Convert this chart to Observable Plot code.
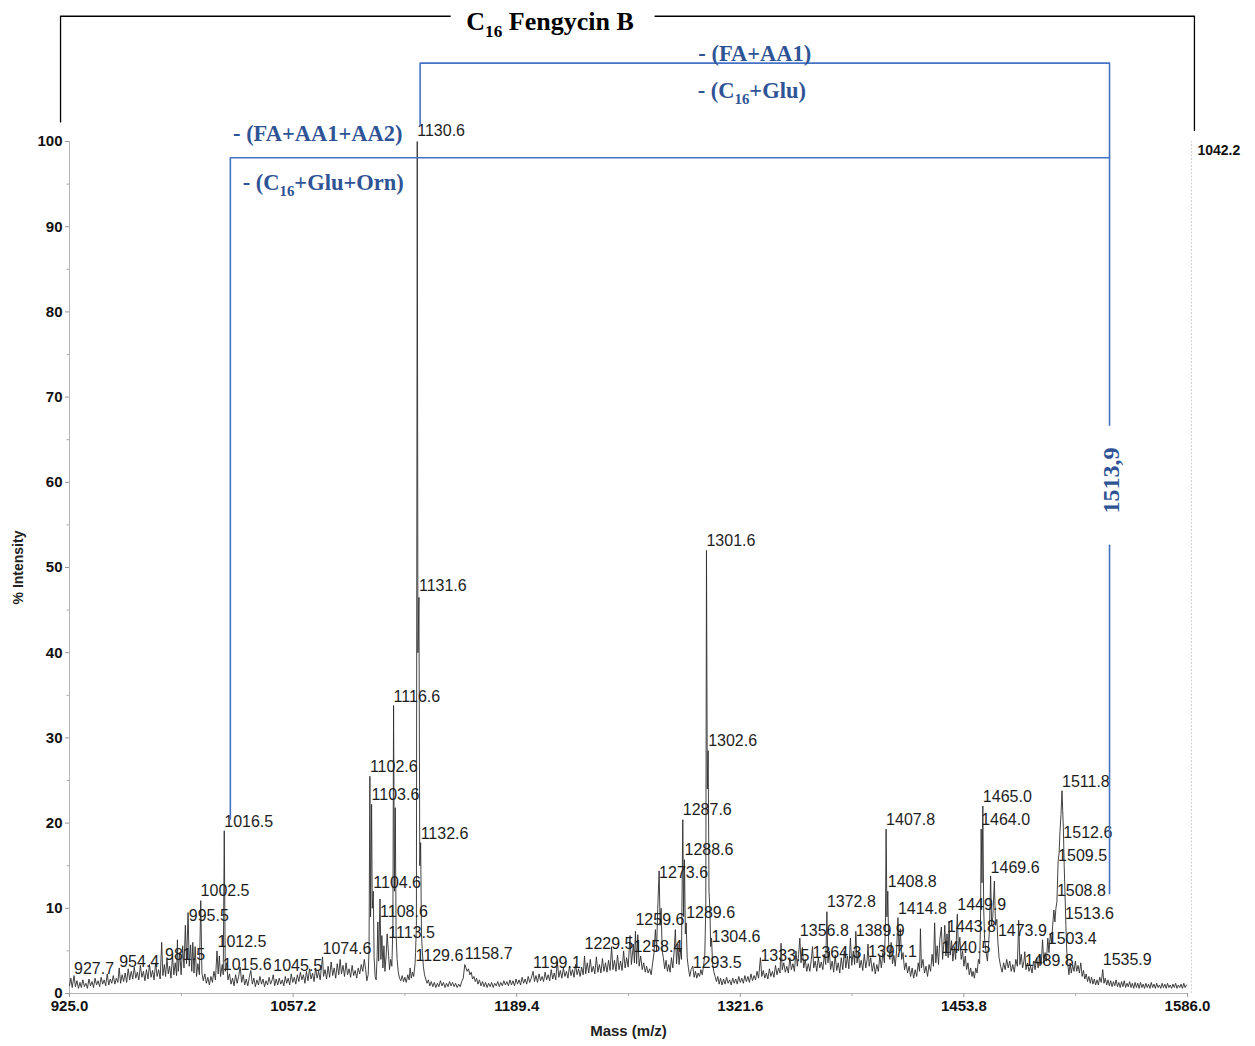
<!DOCTYPE html>
<html>
<head>
<meta charset="utf-8">
<script src="https://cdn.jsdelivr.net/npm/d3@7"></script>
<script src="https://cdn.jsdelivr.net/npm/@observablehq/plot@0.6"></script>
<style>
  html, body { margin: 0; padding: 0; background: #fff; }
  #chart { width: 1255px; height: 1046px; }
</style>
</head>
<body>
<div id="chart"></div>
<script>
// ---------- DATA ----------
const xTicks = [925.0, 1057.2, 1189.4, 1321.6, 1453.8, 1586.0];
const xMinorTicks = [991.1, 1123.3, 1255.5, 1387.7, 1519.9];
const yTicks = [0, 10, 20, 30, 40, 50, 60, 70, 80, 90, 100];
const yMinorTicks = [5, 15, 25, 35, 45, 55, 65, 75, 85, 95];
const maxCounts = "1042.2";

// spectrum profile [m/z, % intensity]
const spectrum = [
[925.0,0.9],[925.8,1.8],[926.6,0.7],[927.7,2.1],[928.5,0.8],[929.4,1.5],[930.3,0.6],[931.2,1.3],[932.0,0.7],[932.9,1.6],[933.8,0.8],[934.7,1.2],[935.6,0.6],[936.5,1.7],[937.4,0.9],[938.3,1.4],[939.2,0.7],[940.1,1.8],[941.0,1.0],[941.9,1.5],[942.8,0.8],[943.7,1.9],[944.6,1.1],[945.5,1.6],[946.4,0.9],[947.3,2.3],[948.2,1.0],[949.1,1.7],[950.0,1.2],[950.9,2.1],[951.8,1.1],[952.7,1.8],[953.6,1.3],[954.4,3.0],[955.2,1.2],[956.1,2.2],[957.0,1.4],[957.9,2.4],[958.8,1.3],[959.7,2.9],[960.6,1.6],[961.5,2.6],[962.4,1.7],[963.3,3.1],[964.2,1.8],[965.1,2.5],[966.0,1.6],[966.9,3.3],[967.8,1.9],[968.7,2.6],[969.6,1.5],[970.5,2.8],[971.4,1.7],[972.3,3.4],[973.2,1.9],[974.1,2.7],[975.0,1.6],[975.9,3.6],[976.8,2.0],[977.7,2.8],[978.6,1.7],[979.5,6.0],[980.2,2.1],[981.1,3.4],[981.8,2.0],[982.6,4.1],[983.4,2.3],[984.2,3.2],[985.0,1.8],[985.9,4.5],[986.7,2.2],[987.5,3.6],[988.3,2.1],[988.8,6.3],[989.3,2.6],[990.2,4.8],[991.0,2.2],[991.9,5.6],[992.7,3.0],[993.5,8.0],[994.2,3.5],[995.1,9.5],[995.8,3.2],[996.6,5.7],[997.3,2.6],[997.9,6.0],[998.6,2.4],[999.3,5.5],[1000.1,2.0],[1000.9,3.5],[1001.8,2.2],[1002.6,10.9],[1003.3,2.4],[1004.1,1.5],[1005.0,2.3],[1005.9,1.2],[1006.8,1.9],[1007.7,1.0],[1008.6,2.0],[1009.5,1.3],[1010.4,2.6],[1011.3,1.6],[1012.2,5.0],[1012.9,2.3],[1013.6,4.4],[1014.3,2.0],[1015.3,3.4],[1015.9,2.2],[1016.5,19.1],[1017.1,2.6],[1017.9,3.6],[1018.7,1.6],[1019.6,2.3],[1020.5,1.1],[1021.4,1.8],[1022.3,0.9],[1023.2,2.2],[1024.1,1.2],[1025.0,2.0],[1025.9,3.1],[1026.8,1.3],[1027.7,2.2],[1028.6,1.0],[1029.5,1.7],[1030.4,0.9],[1031.3,1.9],[1032.2,2.7],[1033.1,1.1],[1034.0,1.8],[1034.9,0.8],[1035.8,1.6],[1036.7,1.0],[1037.6,2.0],[1038.5,1.1],[1039.4,1.7],[1040.3,0.8],[1041.2,1.5],[1042.1,1.0],[1043.0,1.9],[1043.9,1.1],[1044.8,1.6],[1045.5,2.2],[1046.3,0.9],[1047.2,1.7],[1048.1,1.0],[1049.0,1.8],[1049.9,1.1],[1050.8,1.6],[1051.7,0.9],[1052.6,2.0],[1053.4,1.2],[1054.3,1.8],[1055.2,1.0],[1056.1,2.3],[1057.0,1.3],[1057.9,1.9],[1058.8,1.1],[1059.7,2.2],[1060.6,1.4],[1061.5,2.5],[1062.4,1.6],[1063.3,2.2],[1064.2,1.2],[1065.1,2.6],[1066.0,1.5],[1066.9,2.9],[1067.8,1.7],[1068.7,2.4],[1069.6,1.4],[1070.5,3.0],[1071.4,1.8],[1072.3,2.6],[1073.2,1.6],[1074.1,3.4],[1074.6,4.3],[1075.2,2.0],[1076.1,2.8],[1077.0,1.7],[1077.9,3.2],[1078.8,1.9],[1079.7,3.7],[1080.6,2.1],[1081.5,3.0],[1082.4,1.8],[1083.3,3.5],[1084.2,2.2],[1085.0,4.0],[1085.8,2.3],[1086.7,3.3],[1087.6,2.0],[1088.5,3.6],[1089.4,2.2],[1090.3,2.9],[1091.2,1.9],[1092.1,3.3],[1093.0,2.1],[1093.9,2.7],[1094.8,1.8],[1095.7,3.0],[1096.6,2.3],[1097.5,3.4],[1098.4,2.6],[1099.3,4.0],[1100.1,2.8],[1100.8,1.5],[1101.6,2.2],[1102.1,5.0],[1102.6,25.5],[1103.0,9.0],[1103.6,22.2],[1104.0,10.0],[1104.6,12.0],[1105.1,4.2],[1105.7,2.0],[1106.3,1.6],[1106.9,4.5],[1107.3,8.4],[1107.8,3.8],[1108.6,11.1],[1109.1,4.0],[1109.7,6.8],[1110.3,3.0],[1110.9,5.6],[1111.5,2.6],[1112.2,4.4],[1112.8,7.0],[1113.5,5.0],[1114.2,2.8],[1114.9,4.0],[1115.6,3.2],[1116.2,8.0],[1116.6,33.8],[1117.1,12.0],[1117.6,21.8],[1118.1,7.0],[1118.7,4.0],[1119.4,2.5],[1120.1,1.8],[1120.9,1.5],[1121.7,2.1],[1122.5,1.4],[1123.3,1.9],[1124.1,1.3],[1125.0,2.2],[1125.8,1.6],[1126.4,3.0],[1127.1,1.8],[1127.8,2.5],[1128.5,2.0],[1129.3,3.5],[1129.6,4.8],[1130.1,8.0],[1130.6,100],[1131.0,40],[1131.6,46.5],[1132.1,15],[1132.6,17.7],[1133.1,7.0],[1133.6,5.0],[1134.2,3.2],[1134.9,2.2],[1135.6,1.7],[1136.4,1.2],[1137.2,1.6],[1138.0,0.9],[1138.9,1.4],[1139.8,0.8],[1140.7,1.3],[1141.6,0.7],[1142.5,1.2],[1143.4,0.8],[1144.3,1.5],[1145.2,0.9],[1146.1,1.3],[1147.0,0.7],[1147.9,1.2],[1148.8,0.8],[1149.7,1.4],[1150.6,0.9],[1151.5,1.3],[1152.4,0.8],[1153.3,1.2],[1154.2,0.7],[1155.1,1.1],[1156.0,0.8],[1156.9,1.4],[1157.8,1.8],[1158.7,3.4],[1159.4,3.0],[1160.1,2.6],[1160.9,2.9],[1161.7,2.2],[1162.5,2.5],[1163.3,1.7],[1164.1,2.0],[1164.9,1.4],[1165.7,1.8],[1166.5,1.1],[1167.4,1.6],[1168.3,0.9],[1169.2,1.4],[1170.1,0.8],[1171.0,1.3],[1171.9,0.7],[1172.8,1.2],[1173.7,0.8],[1174.6,1.3],[1175.5,0.7],[1176.4,1.2],[1177.3,0.9],[1178.2,1.4],[1179.1,0.8],[1180.0,1.3],[1180.9,0.9],[1181.8,1.5],[1182.7,1.0],[1183.6,1.4],[1184.5,0.9],[1185.4,1.6],[1186.3,1.0],[1187.2,1.5],[1188.1,0.9],[1189.0,1.7],[1189.9,1.1],[1190.8,1.6],[1191.7,1.0],[1192.6,1.9],[1193.5,1.2],[1194.4,1.7],[1195.3,1.1],[1196.2,2.0],[1197.1,1.3],[1198.0,1.8],[1199.1,2.6],[1199.9,1.4],[1200.8,2.1],[1201.7,1.3],[1202.6,2.3],[1203.5,1.5],[1204.4,2.0],[1205.3,1.4],[1206.2,2.5],[1207.1,1.6],[1208.0,2.2],[1208.9,1.5],[1209.8,2.8],[1210.7,1.7],[1211.6,2.4],[1212.5,1.6],[1213.4,3.8],[1214.3,1.9],[1215.2,2.7],[1216.1,1.8],[1217.0,3.0],[1217.9,2.0],[1218.8,2.6],[1219.7,1.8],[1220.6,3.2],[1221.5,2.1],[1222.4,2.8],[1223.3,1.9],[1224.2,3.4],[1225.1,2.2],[1226.0,2.9],[1226.9,2.0],[1227.8,3.1],[1228.7,2.2],[1229.5,4.4],[1230.2,2.3],[1231.1,3.6],[1232.0,2.4],[1232.9,4.0],[1233.8,2.5],[1234.7,3.2],[1235.6,2.3],[1236.5,4.3],[1237.4,2.5],[1238.3,3.4],[1239.2,2.4],[1240.1,4.1],[1241.0,2.6],[1241.9,3.6],[1242.8,2.5],[1243.7,3.9],[1244.6,2.7],[1245.5,5.5],[1246.3,2.8],[1247.2,3.9],[1248.1,2.6],[1249.0,4.5],[1249.9,2.8],[1250.8,3.8],[1251.7,2.7],[1252.6,5.0],[1253.5,3.0],[1254.4,4.2],[1255.3,3.1],[1256.4,6.8],[1257.2,3.4],[1258.4,5.8],[1259.0,3.6],[1259.6,7.3],[1260.3,3.5],[1261.0,6.9],[1261.8,3.2],[1262.7,4.4],[1263.6,2.8],[1264.5,3.6],[1265.4,2.5],[1266.2,3.2],[1267.1,2.4],[1268.0,2.9],[1268.9,2.2],[1269.8,3.6],[1270.6,4.8],[1271.4,7.5],[1272.1,5.0],[1272.8,10.0],[1273.6,14.4],[1274.2,8.0],[1274.8,10.0],[1275.4,5.0],[1276.1,4.2],[1276.9,2.9],[1277.7,3.9],[1278.5,2.6],[1279.3,3.4],[1280.1,2.5],[1280.9,4.2],[1281.7,3.0],[1282.5,5.0],[1283.2,7.5],[1283.9,3.5],[1284.7,5.8],[1285.4,3.4],[1286.1,5.2],[1286.8,4.0],[1287.6,20.4],[1288.1,9.0],[1288.6,15.7],[1289.1,7.0],[1289.6,8.3],[1290.2,4.2],[1290.9,3.0],[1291.7,2.0],[1292.5,2.8],[1293.5,3.2],[1294.3,1.9],[1295.1,2.6],[1295.9,1.8],[1296.7,2.4],[1297.5,2.0],[1298.3,2.8],[1299.1,2.2],[1299.9,3.3],[1300.6,4.5],[1301.2,10],[1301.6,52.0],[1302.1,24],[1302.6,28.5],[1303.1,12],[1303.6,10.0],[1304.1,5.5],[1304.6,6.5],[1305.2,3.5],[1305.9,2.6],[1306.7,2.0],[1307.5,1.4],[1308.3,2.0],[1309.1,1.1],[1309.9,1.8],[1310.8,1.0],[1311.7,1.7],[1312.6,1.1],[1313.5,1.9],[1314.4,1.2],[1315.3,1.6],[1316.2,1.0],[1317.1,1.8],[1318.0,1.2],[1318.9,1.7],[1319.8,1.1],[1320.7,2.0],[1321.6,1.3],[1322.5,1.8],[1323.4,1.2],[1324.3,2.1],[1325.2,1.4],[1326.1,2.0],[1327.0,1.3],[1327.9,2.3],[1328.8,1.5],[1329.7,2.1],[1330.6,1.6],[1331.5,2.6],[1332.4,1.8],[1333.5,4.2],[1334.3,2.0],[1335.2,2.7],[1336.1,1.8],[1337.0,2.4],[1337.9,1.7],[1338.8,2.9],[1339.7,2.0],[1340.6,2.6],[1341.5,1.9],[1342.4,3.3],[1343.3,2.2],[1344.2,3.0],[1345.1,2.4],[1345.7,5.9],[1346.4,2.8],[1347.3,3.6],[1348.2,2.5],[1349.1,3.2],[1350.0,2.4],[1350.9,4.2],[1351.8,2.8],[1352.7,3.5],[1353.6,2.6],[1354.5,5.0],[1355.3,3.2],[1356.1,4.6],[1356.8,6.5],[1357.5,3.6],[1358.3,5.4],[1359.1,3.0],[1360.0,4.0],[1360.9,2.6],[1361.8,3.5],[1362.7,2.6],[1363.6,4.0],[1364.3,5.5],[1365.0,3.0],[1365.9,3.8],[1366.8,2.6],[1367.7,4.2],[1368.6,3.0],[1369.5,3.7],[1370.4,2.8],[1371.3,4.6],[1372.1,3.4],[1372.8,9.6],[1373.4,3.6],[1374.2,5.0],[1375.0,2.8],[1375.9,3.8],[1376.8,2.5],[1377.7,4.5],[1378.6,2.7],[1379.5,3.6],[1380.4,2.4],[1381.3,4.2],[1382.2,2.8],[1383.1,5.0],[1384.0,3.0],[1384.9,4.4],[1385.8,2.9],[1386.7,6.5],[1387.5,3.3],[1388.4,5.0],[1389.2,3.4],[1389.9,7.3],[1390.6,3.6],[1391.4,4.8],[1392.2,3.0],[1393.1,3.9],[1394.0,2.7],[1394.9,4.6],[1395.8,3.0],[1396.6,4.0],[1397.1,5.8],[1397.8,3.2],[1398.7,4.2],[1399.6,2.6],[1400.5,3.6],[1401.4,2.3],[1402.3,3.4],[1403.2,2.6],[1404.1,4.4],[1405.0,3.0],[1405.9,4.8],[1406.8,3.6],[1407.4,8],[1407.8,19.3],[1408.3,9],[1408.8,12.0],[1409.3,6.0],[1410.0,4.0],[1410.8,6.0],[1411.6,3.5],[1412.4,4.5],[1413.2,3.2],[1414.0,5.0],[1414.8,8.9],[1415.5,5.0],[1416.2,7.6],[1417.0,4.0],[1417.8,4.8],[1418.7,2.8],[1419.6,3.6],[1420.5,2.4],[1421.4,3.2],[1422.3,2.0],[1423.2,3.0],[1424.1,1.8],[1425.0,2.8],[1425.9,2.0],[1426.8,3.6],[1427.6,2.6],[1428.1,7.6],[1428.7,3.0],[1429.6,4.0],[1430.5,2.4],[1431.4,3.2],[1432.3,2.0],[1433.2,3.4],[1434.1,2.6],[1435.0,4.6],[1435.8,3.2],[1436.5,8.3],[1437.2,3.6],[1438.0,5.6],[1438.8,3.4],[1439.6,6.4],[1440.5,7.8],[1441.2,4.0],[1442.0,6.0],[1442.5,8.0],[1443.2,4.4],[1443.8,7.0],[1444.5,4.2],[1445.0,8.5],[1445.7,4.5],[1446.5,6.2],[1447.3,3.8],[1448.1,5.5],[1448.9,4.0],[1449.9,9.3],[1450.6,5.0],[1451.4,6.6],[1452.2,4.0],[1453.0,5.0],[1453.8,3.2],[1454.6,4.4],[1455.4,2.8],[1456.2,3.6],[1457.0,2.2],[1457.8,3.0],[1458.6,2.0],[1459.2,2.6],[1460.0,1.8],[1460.8,3.0],[1461.6,2.4],[1462.4,4.0],[1463.1,3.5],[1463.6,8],[1464.0,19.3],[1464.5,13],[1465.0,22.0],[1465.5,10],[1466.0,6.5],[1466.8,5.0],[1467.7,3.8],[1468.5,6.0],[1469.0,8],[1469.6,13.8],[1470.2,8.0],[1470.9,9.0],[1471.8,13.2],[1472.5,8.0],[1473.3,8.7],[1473.9,6.0],[1474.6,4.2],[1475.5,3.2],[1476.4,2.5],[1477.3,3.6],[1478.2,2.8],[1479.1,4.0],[1480.0,3.0],[1480.9,3.8],[1481.8,2.6],[1482.7,3.4],[1483.6,2.5],[1484.5,4.0],[1485.4,3.2],[1486.2,8.6],[1486.9,3.4],[1487.7,4.6],[1488.5,3.0],[1489.3,3.8],[1489.8,4.9],[1490.5,2.8],[1491.4,3.6],[1492.3,2.6],[1493.2,3.2],[1494.1,2.4],[1495.0,3.8],[1495.9,2.8],[1496.8,4.2],[1497.7,3.0],[1498.6,4.5],[1499.5,3.4],[1500.3,6.3],[1501.0,3.6],[1501.8,4.8],[1502.6,3.8],[1503.4,6.5],[1504.1,4.8],[1504.9,7.0],[1505.6,6.0],[1506.3,8.0],[1507.0,9.8],[1507.6,8.4],[1508.2,10.0],[1508.8,10.8],[1509.5,15.5],[1510.1,16.5],[1510.6,19.0],[1511.2,21.0],[1511.8,23.8],[1512.2,21.5],[1512.6,19.5],[1513.1,15.0],[1513.6,11.6],[1514.1,8.0],[1514.6,5.0],[1515.2,3.5],[1515.9,2.2],[1516.6,3.6],[1517.3,2.4],[1518.1,3.4],[1518.9,2.6],[1519.7,3.8],[1520.5,2.6],[1521.3,3.3],[1522.1,2.4],[1522.9,3.6],[1523.7,2.0],[1524.5,2.7],[1525.3,1.7],[1526.1,2.3],[1526.9,1.4],[1527.7,2.0],[1528.5,1.2],[1529.3,1.9],[1530.1,1.1],[1530.9,1.7],[1531.7,1.0],[1532.5,1.6],[1533.3,1.0],[1534.1,1.9],[1535.0,1.3],[1535.9,2.8],[1536.6,1.2],[1537.4,1.8],[1538.2,1.0],[1539.0,1.6],[1539.8,0.9],[1540.6,1.5],[1541.4,0.8],[1542.2,1.4],[1543.0,0.9],[1543.8,1.6],[1544.6,0.8],[1545.4,1.3],[1546.2,0.7],[1547.0,1.4],[1547.8,0.8],[1548.6,1.5],[1549.4,0.7],[1550.2,1.2],[1551.0,0.8],[1551.8,1.4],[1552.6,0.7],[1553.4,1.2],[1554.2,0.6],[1555.0,1.3],[1555.8,0.7],[1556.6,1.2],[1557.4,0.6],[1558.2,1.3],[1559.0,0.7],[1559.8,1.1],[1560.6,0.6],[1561.4,1.2],[1562.2,0.7],[1563.0,1.1],[1563.8,0.6],[1564.6,1.3],[1565.4,0.7],[1566.2,1.1],[1567.0,0.6],[1567.8,1.2],[1568.6,0.7],[1569.4,1.0],[1570.2,0.6],[1571.0,1.2],[1571.8,0.7],[1572.6,1.1],[1573.4,0.6],[1574.2,1.2],[1575.0,0.7],[1575.8,1.0],[1576.6,0.6],[1577.4,1.1],[1578.2,0.7],[1579.0,1.2],[1579.8,0.6],[1580.6,1.0],[1581.4,0.7],[1582.2,1.1],[1583.0,0.6],[1583.8,1.2],[1584.6,0.7],[1585.4,1.0]
];

// peak annotations: m/z values and the height at which their label sits
const peakLabelMz = [927.7, 954.4, 981.5, 995.5, 1002.5, 1012.5, 1015.6, 1016.5, 1045.5, 1074.6,
  1102.6, 1103.6, 1104.6, 1108.6, 1113.5, 1116.6, 1129.6, 1130.6, 1131.6, 1132.6,
  1158.7, 1199.1, 1229.5, 1258.4, 1259.6, 1273.6, 1287.6, 1288.6, 1289.6, 1293.5,
  1301.6, 1302.6, 1304.6, 1333.5, 1356.8, 1364.3, 1372.8, 1389.9, 1397.1, 1407.8,
  1408.8, 1414.8, 1440.5, 1443.8, 1449.9, 1464.0, 1465.0, 1469.6, 1473.9, 1489.8,
  1503.4, 1508.8, 1509.5, 1511.8, 1512.6, 1513.6, 1535.9];
const peakLabelY = [2.9, 3.7, 4.5, 9.1, 12.1, 6.1, 3.4, 20.2, 3.3, 5.2,
  26.6, 23.3, 13.0, 9.6, 7.1, 34.8, 4.4, 101.3, 47.8, 18.7,
  4.6, 3.6, 5.8, 5.5, 8.6, 14.2, 21.5, 16.8, 9.5, 3.6,
  53.1, 29.6, 6.6, 4.4, 7.4, 4.8, 10.8, 7.4, 4.9, 20.4,
  13.1, 9.9, 5.4, 7.8, 10.4, 20.4, 23.1, 14.7, 7.4, 3.8,
  6.4, 12.1, 16.2, 24.8, 18.8, 9.3, 3.9];

// fragmentation annotation
const titleText = "C16 Fengycin B";
const titleBracketLeft = [[919.7, 102.3], [919.7, 114.7], [1150.1, 114.7]];
const titleBracketRight = [[1271.2, 114.7], [1590.1, 114.7], [1590.1, 101.3]];
const outerBracket = [[1132.3, 101.9], [1132.3, 109.2], [1539.9, 109.2], [1539.9, 66.7]];
const outerBracketLower = [[1539.9, 52.6], [1539.9, 11.7]];
const innerBracket = [[1020.1, 20.5], [1020.1, 98.1], [1539.9, 98.1]];
const lossLabels = ["- (FA+AA1)", "- (C16+Glu)", "- (FA+AA1+AA2)", "- (C16+Glu+Orn)"];
const lossLabelMz = [1330.2, 1328.4, 1071.8, 1075.0];
const lossLabelY = [110.3, 106.0, 100.9, 95.2];
const precursorLabel = "1513,9";
const precursorMz = 1541.1;
const precursorY = 60.2;

// ---------- CHART ----------
const blueLine = "#4472C4";
const blueText = "#2F5496";
const serif = "'Liberation Serif', 'Times New Roman', serif";
const sans = "'Liberation Sans', Arial, sans-serif";

const chart = Plot.plot({
  width: 1255,
  height: 1046,
  marginLeft: 69,
  marginRight: 68,
  marginTop: 141,
  marginBottom: 53,
  style: { fontFamily: sans, background: "#fff", overflow: "visible" },
  x: { domain: [925, 1586] },
  y: { domain: [0, 100] },
  marks: [
    // axes frame
    Plot.ruleX([925], { y1: 0, y2: 100, stroke: "#b5b5b5", strokeWidth: 1 }),
    Plot.ruleY([0], { x1: 925, x2: 1586, stroke: "#b5b5b5", strokeWidth: 1.2 }),
    Plot.ruleX([1588.3], { y1: 0, y2: 100, stroke: "#cfcfcf", strokeWidth: 1, strokeDasharray: "2,1.5" }),
    Plot.axisY({ ticks: yTicks, tickSize: 4, tickPadding: 3, tickFormat: d => String(d), label: null,
      fontSize: 15, fontWeight: "bold", stroke: "#999", fill: "#111" }),
    Plot.axisY({ ticks: yMinorTicks, tickSize: 2.5, tickFormat: () => "", label: null, stroke: "#aaa" }),
    Plot.axisX({ ticks: xTicks, tickSize: 4, tickPadding: 3, tickFormat: d => d.toFixed(1), label: null,
      fontSize: 15, fontWeight: "bold", stroke: "#999", fill: "#111" }),
    Plot.axisX({ ticks: xMinorTicks, tickSize: 3, tickFormat: () => "", label: null, stroke: "#aaa" }),
    Plot.text(["Mass (m/z)"], { frameAnchor: "bottom", textAnchor: "middle", lineAnchor: "middle", dy: 38,
      fontSize: 15, fontWeight: "bold", fill: "#222" }),
    Plot.text(["% Intensity"], { frameAnchor: "left", textAnchor: "middle", lineAnchor: "middle", dx: -51, rotate: -90,
      fontSize: 14, fontWeight: "bold", fill: "#222" }),
    Plot.text([maxCounts], { x: [1591.9], y: [98.9], textAnchor: "start", fontSize: 14, fontWeight: "bold", fill: "#111" }),

    // spectrum
    Plot.line(spectrum, { x: d => d[0], y: d => d[1], stroke: "#2e2e2e", strokeWidth: 0.9, strokeLinejoin: "miter" }),

    // peak labels
    Plot.text(peakLabelMz, { x: d => d, y: (d, i) => peakLabelY[i], text: d => d.toFixed(1),
      textAnchor: "start", fontSize: 16, fill: "#1e1e1e" }),

    // title bracket
    Plot.line(titleBracketLeft, { x: d => d[0], y: d => d[1], stroke: "#000", strokeWidth: 1.3 }),
    Plot.line(titleBracketRight, { x: d => d[0], y: d => d[1], stroke: "#000", strokeWidth: 1.3 }),
    Plot.text([titleText], { x: [1209.1], y: [114.1], fontFamily: serif, fontWeight: "bold", fontSize: 26, fill: "#000" }),

    // fragmentation brackets
    Plot.line(outerBracket, { x: d => d[0], y: d => d[1], stroke: blueLine, strokeWidth: 1.6 }),
    Plot.line(outerBracketLower, { x: d => d[0], y: d => d[1], stroke: blueLine, strokeWidth: 1.6 }),
    Plot.line(innerBracket, { x: d => d[0], y: d => d[1], stroke: blueLine, strokeWidth: 1.6 }),
    Plot.text(lossLabels, { x: (d, i) => lossLabelMz[i], y: (d, i) => lossLabelY[i], text: d => d,
      fontFamily: serif, fontWeight: "bold", fontSize: 22.5, fill: blueText }),
    Plot.text([precursorLabel], { x: [precursorMz], y: [precursorY], rotate: -90,
      fontFamily: serif, fontWeight: "bold", fontSize: 24, fill: blueText })
  ]
});

document.getElementById("chart").appendChild(chart);

// render "C16" with a subscript 16
d3.select(chart).selectAll("text").each(function () {
  const t = this.textContent;
  if (!t.includes("C16") || this.querySelector("tspan")) return;
  const fs = parseFloat(getComputedStyle(this).fontSize) || 20;
  const i = t.indexOf("C16");
  const el = d3.select(this);
  el.text(null);
  el.append("tspan").text(t.slice(0, i + 1));
  el.append("tspan").attr("dy", fs * 0.28).style("font-size", (fs * 0.66) + "px").text("16");
  el.append("tspan").attr("dy", -fs * 0.28).text(t.slice(i + 3));
});
</script>
</body>
</html>
